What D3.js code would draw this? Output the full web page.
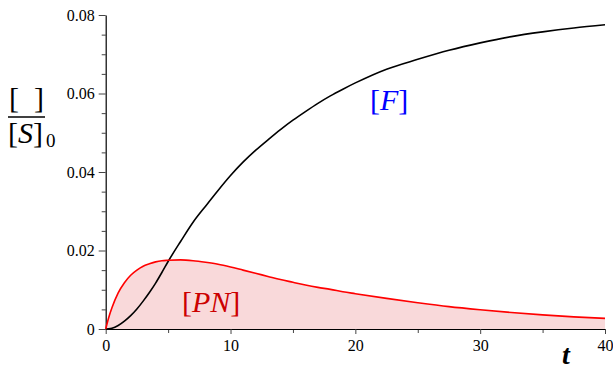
<!DOCTYPE html>
<html>
<head>
<meta charset="utf-8">
<script src="https://cdn.jsdelivr.net/npm/d3@7"></script>
<style>
  body { margin: 0; background: #fff; }
  svg { display: block; }
</style>
</head>
<body>
<svg width="613" height="369"></svg>
<script>
// values
const tValues = [0, 0.25, 0.5, 1, 1.5, 2, 2.5, 3, 3.5, 4, 4.5, 5, 6, 7, 8, 9, 10, 11, 12, 13, 14, 15, 16, 17, 18, 19, 20, 22.5, 25, 27.5, 30, 32.5, 35, 37.5, 40];
const pnValues = [0, 0.0030, 0.0054, 0.0092, 0.0118, 0.0137, 0.0150, 0.0160, 0.0166, 0.0171, 0.0174, 0.0175, 0.0176, 0.0174, 0.0170, 0.0165, 0.0158, 0.0150, 0.0142, 0.0134, 0.0126, 0.0119, 0.0112, 0.0106, 0.0101, 0.0095, 0.0090, 0.0078, 0.0067, 0.0057, 0.0049, 0.0042, 0.0036, 0.0031, 0.0027];
const fValues = [0, 0.00005, 0.0002, 0.0009, 0.0020, 0.0034, 0.0051, 0.0071, 0.0093, 0.0117, 0.0144, 0.0172, 0.0223, 0.0272, 0.0313, 0.0353, 0.0391, 0.0425, 0.0455, 0.0482, 0.0508, 0.0532, 0.0554, 0.0575, 0.0594, 0.0611, 0.0627, 0.0662, 0.0687, 0.0710, 0.0729, 0.0745, 0.0757, 0.0767, 0.0775];
const xTicks = [0, 10, 20, 30, 40];
const xMinor = [5, 15, 25, 35];
const yTicks = [0, 0.02, 0.04, 0.06, 0.08];
const yMinor = [0.005, 0.01, 0.015, 0.025, 0.03, 0.035, 0.045, 0.05, 0.055, 0.065, 0.07, 0.075];

const serif = '"Liberation Serif"';

const pn = tValues.map((t, i) => ({ t, v: pnValues[i] }));
const f = tValues.map((t, i) => ({ t, v: fValues[i] }));

const svg = d3.select('svg');
const x = d3.scaleLinear().domain([0, 40]).range([105.7, 605]);
const y = d3.scaleLinear().domain([0, 0.08]).range([329, 15]);

// shaded area under [PN]
svg.append('path')
  .datum(pn)
  .attr('fill', '#f9d9da')
  .attr('d', d3.area().curve(d3.curveMonotoneX).x(d => x(d.t)).y0(y(0)).y1(d => y(d.v)));

const line = d3.line().curve(d3.curveMonotoneX).x(d => x(d.t)).y(d => y(d.v));

// axes
const styleAxis = g => {
  g.select('.domain').attr('stroke', '#000').attr('stroke-width', 1.2);
  g.selectAll('.tick line').attr('stroke', '#444');
  g.selectAll('.tick text').attr('fill', '#000')
    .style('font-family', serif).style('font-size', '16px');
};

svg.append('g')
  .attr('transform', `translate(0,${y(0)})`)
  .call(d3.axisBottom(x).tickValues(xMinor).tickSize(4).tickFormat('').tickSizeOuter(0))
  .call(g => g.select('.domain').remove())
  .call(styleAxis);
svg.append('g')
  .attr('transform', `translate(0,${y(0)})`)
  .call(d3.axisBottom(x).tickValues(xTicks).tickSize(5).tickSizeOuter(0).tickPadding(6).tickFormat(d3.format('d')))
  .call(styleAxis);

svg.append('g')
  .attr('transform', `translate(${x(0)},0)`)
  .call(d3.axisLeft(y).tickValues(yMinor).tickSize(4).tickFormat('').tickSizeOuter(0))
  .call(g => g.select('.domain').remove())
  .call(styleAxis);
svg.append('g')
  .attr('transform', `translate(${x(0)},0)`)
  .call(d3.axisLeft(y).tickValues(yTicks).tickSize(7).tickSizeOuter(0).tickPadding(4)
    .tickFormat(d => d === 0 ? '0' : d3.format('.2f')(d)))
  .call(styleAxis);

// curves
svg.append('path')
  .datum(f)
  .attr('fill', 'none')
  .attr('stroke', '#000')
  .attr('stroke-width', 1.6)
  .attr('d', line);

svg.append('path')
  .datum(pn)
  .attr('fill', 'none')
  .attr('stroke', '#ff0000')
  .attr('stroke-width', 1.6)
  .attr('d', line);

// labels
const label = (px, py, size, fill) => svg.append('text')
  .attr('x', px).attr('y', py).attr('fill', fill)
  .style('font-family', serif).style('font-size', size + 'px');

label(370, 110, 30, '#0000ff').html('[<tspan font-style="italic">F</tspan>]');
label(182, 312, 30, '#cc0000').html('[<tspan font-style="italic">PN</tspan>]');
label(562, 364, 28, '#000').style('font-style', 'italic').style('font-weight', 'bold').text('t');

// y label: [ ] / [S]0
label(9, 108, 30, '#000').text('[');
label(34, 108, 30, '#000').text(']');
svg.append('line').attr('x1', 8).attr('x2', 45).attr('y1', 117).attr('y2', 117)
  .attr('stroke', '#000').attr('stroke-width', 1.5);
label(8, 143, 30, '#000').html('[<tspan font-style="italic">S</tspan>]');
label(46, 147, 19, '#000').text('0');
</script>
</body>
</html>
